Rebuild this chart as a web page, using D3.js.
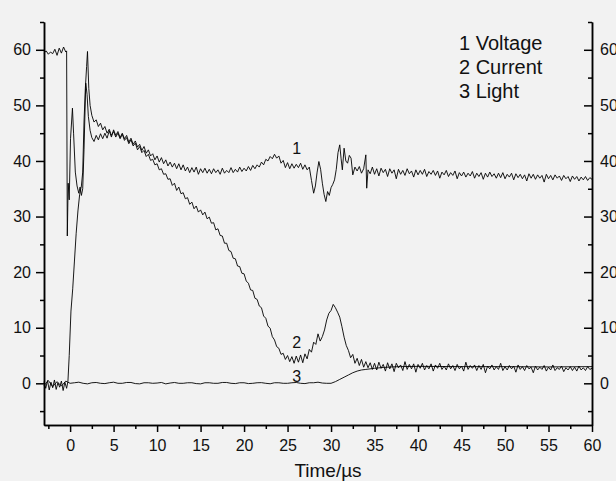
<!DOCTYPE html>
<html>
<head>
<meta charset="utf-8">
<script src="https://cdn.jsdelivr.net/npm/d3@7"></script>
<style>
  html, body { margin: 0; padding: 0; background: #f2f2f2; }
  svg { display: block; font-family: "Liberation Sans", Arial, sans-serif; }
</style>
</head>
<body>
<div id="chart"></div>
<script>
// [time in µs, value]
const voltage = [
  [-3,59.4],[-2.75,59.8],[-2.5,59.2],[-2.25,59.6],[-2,59.3],[-1.75,60.1],[-1.5,59.0],[-1.25,60.3],[-1,59.4],[-0.75,60.5],[-0.5,59.6],[-0.4,59.8],
  [-0.32,26.5],[-0.22,36],[-0.1,33],[0.05,44],[0.27,49.5],[0.4,45],[0.6,38],[0.8,35.5],[1.0,34.2],[1.15,35.3],[1.3,33.8],[1.45,35],[1.6,42],[1.8,54],[1.95,52],[2.1,48],[2.3,45.5],[2.5,44.2],[2.75,43.5],
  [3,44.6],[3.25,43.8],[3.5,44.9],[3.75,44.0],[4,45.0],[4.25,44.1],[4.5,45.4],[4.75,44.3],[5,45.6],[5.25,44.6],[5.5,45.3],[5.75,44.2],[6,45.0],[6.25,44.0],[6.5,44.6],[6.75,43.4],
  [7,44.1],[7.25,43.0],[7.5,43.6],[7.75,42.5],[8,43.0],[8.25,41.9],[8.5,42.6],[8.75,41.4],[9,42.0],[9.25,40.9],[9.5,41.3],[9.75,40.2],[10,40.9],[10.25,39.8],[10.5,40.6],[10.75,39.5],
  [11,40.2],[11.25,39.1],[11.5,39.8],[11.75,38.9],[12,39.6],[12.25,38.6],[12.5,39.5],[12.75,38.4],[13,39.3],[13.25,38.2],[13.5,38.9],[13.75,37.9],[14,38.8],[14.25,38.0],[14.5,38.9],[14.75,37.6],
  [15,38.6],[15.25,37.9],[15.5,38.7],[15.75,37.8],[16,38.5],[16.25,37.7],[16.5,38.6],[16.75,37.9],[17,38.4],[17.25,37.6],[17.5,38.7],[17.75,37.8],[18,38.3],[18.25,37.9],[18.5,38.8],[18.75,37.9],
  [19,38.5],[19.25,38.0],[19.5,38.9],[19.75,38.1],[20,38.7],[20.25,38.2],[20.5,39.0],[20.75,38.3],[21,39.2],[21.25,38.6],[21.5,39.3],[21.75,38.9],[22,39.8],[22.25,39.3],[22.5,40.3],[22.75,40.0],
  [23,40.8],[23.25,40.4],[23.5,41.2],[23.75,40.5],[24,40.9],[24.25,39.6],[24.5,40.1],[24.75,38.8],[25,39.7],[25.25,38.6],[25.5,39.5],[25.75,38.7],[26,39.4],[26.25,38.8],[26.5,39.6],[26.75,38.5],
  [27,39.3],[27.25,38.4],[27.5,38.9],[27.75,36.5],[28,34.2],[28.2,35.5],[28.4,38.0],[28.6,39.9],[28.8,38.5],[29,36.0],[29.2,34.0],[29.4,32.7],[29.6,34.5],[29.8,33.8],[30,35.2],[30.2,35.8],
  [30.4,36.6],[30.6,38.5],[30.8,41.5],[31,42.9],[31.15,40.5],[31.3,38.4],[31.5,42.3],[31.7,40.0],[31.9,39.6],[32.1,41.0],[32.3,40.5],[32.5,37.5],[32.75,38.9],[33,38.2],[33.25,39.0],[33.5,37.8],
  [33.75,38.6],[34,41.1],[34.1,35.1],[34.25,38.4],[34.5,37.7],[34.75,38.9],[35,37.6],[35.25,38.6],[35.5,37.3],[35.75,38.7],[36,37.9],[36.25,38.5],[36.5,37.2],[36.75,38.6],[37,37.8],[37.25,38.4],
  [37.5,36.8],[37.75,38.5],[38,37.6],[38.25,38.3],[38.5,37.4],[38.75,38.6],[39,37.7],[39.25,38.2],[39.5,37.1],[39.75,38.4],[40,37.5],[40.25,38.3],[40.5,37.6],[40.75,38.5],[41,37.2],[41.25,38.1],
  [41.5,37.6],[41.75,38.3],[42,37.4],[42.25,38.2],[42.5,36.9],[42.75,38.0],[43,37.5],[43.25,38.3],[43.5,37.2],[43.75,37.9],[44,37.4],[44.25,38.2],[44.5,36.8],[44.75,37.9],[45,37.3],[45.25,38.0],
  [45.5,37.1],[45.75,37.8],[46,37.3],[46.25,38.1],[46.5,36.9],[46.75,37.8],[47,37.2],[47.25,37.9],[47.5,36.7],[47.75,37.8],[48,37.1],[48.25,38.0],[48.5,37.2],[48.75,37.7],[49,36.9],[49.25,37.8],
  [49.5,37.0],[49.75,37.9],[50,36.8],[50.25,37.6],[50.5,37.1],[50.75,37.8],[51,36.6],[51.25,37.7],[51.5,37.0],[51.75,37.6],[52,36.8],[52.25,37.5],[52.5,36.4],[52.75,37.7],[53,36.9],[53.25,37.6],
  [53.5,36.7],[53.75,37.5],[54,36.9],[54.25,37.4],[54.5,36.2],[54.75,37.6],[55,36.8],[55.25,37.4],[55.5,36.6],[55.75,37.5],[56,36.9],[56.25,37.3],[56.5,36.5],[56.75,37.4],[57,36.8],[57.25,37.2],
  [57.5,36.3],[57.75,37.3],[58,36.7],[58.25,37.2],[58.5,36.4],[58.75,37.1],[59,36.6],[59.25,37.2],[59.5,36.5],[59.75,37.0],[60,36.7]
];

const current = [
  [-3,0.3],[-2.8,-0.9],[-2.6,0.5],[-2.4,-1.2],[-2.2,0.2],[-2,-0.8],[-1.8,0.6],[-1.6,-1.1],[-1.4,0.1],[-1.2,-0.7],[-1,0.4],[-0.8,-1.3],[-0.6,0.2],[-0.4,-0.9],[-0.25,0.3],
  [-0.1,5],[0.1,13],[0.3,17],[0.5,22],[0.7,27],[0.9,31],[1.1,34],[1.3,35.5],[1.45,38],[1.6,47],[1.75,53],[1.9,57],[2.0,59.7],[2.15,53],[2.3,50],[2.5,48.2],[2.75,47.0],
  [3,47.4],[3.25,46.2],[3.5,46.8],[3.75,45.6],[4,46.2],[4.25,45.0],[4.5,45.7],[4.75,44.6],[5,45.3],[5.25,44.3],[5.5,45.0],[5.75,44.0],[6,44.8],[6.25,43.7],[6.5,44.2],[6.75,43.1],
  [7,43.8],[7.25,42.7],[7.5,43.2],[7.75,42.0],[8,42.6],[8.25,41.5],[8.5,41.9],[8.75,40.8],[9,41.2],[9.25,40.1],[9.5,40.3],[9.75,39.3],[10,39.5],[10.25,38.4],[10.5,38.6],[10.75,37.6],
  [11,37.7],[11.25,36.7],[11.5,36.8],[11.75,35.6],[12,36.0],[12.25,34.7],[12.5,35.3],[12.75,34.1],[13,34.3],[13.25,33.2],[13.5,33.4],[13.75,32.2],[14,32.6],[14.25,31.4],[14.5,31.9],[14.75,30.8],
  [15,31.2],[15.25,30.3],[15.5,30.8],[15.75,29.6],[16,29.9],[16.25,28.8],[16.5,28.9],[16.75,27.6],[17,27.8],[17.25,26.6],[17.5,26.5],[17.75,25.2],[18,25.2],[18.25,23.9],[18.5,23.7],[18.75,22.5],
  [19,22.4],[19.25,21.1],[19.5,21.0],[19.75,19.8],[20,19.7],[20.25,18.4],[20.5,18.0],[20.75,16.8],[21,16.7],[21.25,15.3],[21.5,15.1],[21.75,13.9],[22,13.6],[22.25,12.1],[22.5,11.7],[22.75,10.3],
  [23,9.9],[23.25,8.4],[23.5,7.8],[23.75,6.6],[24,6.3],[24.25,5.2],[24.5,5.4],[24.75,4.3],[25,5.0],[25.25,3.9],[25.5,4.8],[25.75,3.6],[26,4.9],[26.25,3.8],[26.5,5.1],[26.75,3.7],
  [27,5.3],[27.25,4.4],[27.5,6.1],[27.75,5.6],[28,7.4],[28.25,7.0],[28.5,8.9],[28.75,7.6],[29,8.4],[29.25,9.6],[29.5,11.4],[29.75,12.6],[30,13.1],[30.25,14.2],[30.5,13.6],[30.75,12.8],
  [31,11.9],[31.25,10.2],[31.5,8.3],[31.75,6.8],[32,5.9],[32.25,4.6],[32.5,5.2],[32.75,3.6],[33,4.5],[33.25,3.2],[33.5,4.3],[33.75,2.9],[34,3.9],[34.25,2.8],[34.5,3.7],[34.75,2.5],
  [35,3.6],[35.25,2.4],[35.5,3.8],[35.75,2.7],[36,3.4],[36.25,2.2],[36.5,3.7],[36.75,2.6],[37,3.5],[37.25,2.1],[37.5,3.6],[37.75,2.8],[38,3.3],[38.25,2.3],[38.5,3.9],[38.75,2.5],
  [39,3.4],[39.25,2.6],[39.5,3.5],[39.75,2.0],[40,3.4],[40.25,2.7],[40.5,3.6],[40.75,2.4],[41,3.2],[41.25,2.6],[41.5,3.5],[41.75,2.2],[42,3.3],[42.25,2.7],[42.5,3.6],[42.75,2.5],
  [43,3.1],[43.25,2.4],[43.5,3.5],[43.75,2.6],[44,3.2],[44.25,2.3],[44.5,3.4],[44.75,2.6],[45,3.1],[45.25,2.2],[45.5,3.8],[45.75,2.5],[46,3.2],[46.25,2.7],[46.5,3.3],[46.75,2.3],
  [47,3.2],[47.25,2.5],[47.5,3.4],[47.75,1.9],[48,3.1],[48.25,2.6],[48.5,3.3],[48.75,2.4],[49,3.0],[49.25,2.5],[49.5,3.6],[49.75,2.3],[50,3.0],[50.25,2.4],[50.5,3.2],[50.75,2.6],
  [51,3.1],[51.25,2.0],[51.5,3.3],[51.75,2.5],[52,3.0],[52.25,2.3],[52.5,3.2],[52.75,2.6],[53,2.9],[53.25,1.9],[53.5,3.1],[53.75,2.4],[54,2.9],[54.25,2.5],[54.5,3.2],[54.75,2.2],
  [55,2.9],[55.25,2.4],[55.5,3.3],[55.75,2.3],[56,2.8],[56.25,2.5],[56.5,3.1],[56.75,2.1],[57,2.8],[57.25,2.4],[57.5,3.0],[57.75,2.3],[58,2.9],[58.25,2.2],[58.5,3.1],[58.75,2.4],
  [59,2.8],[59.25,2.3],[59.5,3.0],[59.75,2.5],[60,2.7]
];

const light = [
  [-3,-0.4],[-2.5,0.5],[-2,-0.6],[-1.5,0.3],[-1,-0.5],[-0.5,0.4],[0,0.0],[0.5,0.1],[1,0.2],[1.5,0.0],[2,-0.1],[2.5,0.1],[3,0.15],[3.5,0.0],[4,-0.05],[4.5,0.1],
  [5,0.2],[5.5,0.0],[6,0.0],[6.5,0.15],[7,0.15],[7.5,-0.05],[8,-0.1],[8.5,0.1],[9,0.1],[9.5,0.0],[10,0.05],[10.5,0.15],[11,-0.1],[11.5,0.05],[12,0.15],[12.5,0.0],
  [13,0.0],[13.5,0.1],[14,0.1],[14.5,-0.05],[15,-0.1],[15.5,0.1],[16,0.1],[16.5,0.0],[17,0.0],[17.5,0.15],[18,0.15],[18.5,0.0],[19,-0.05],[19.5,0.1],[20,0.1],[20.5,-0.05],
  [21,0.0],[21.5,0.1],[22,0.12],[22.5,0.0],[23,-0.08],[23.5,0.1],[24,0.1],[24.5,0.0],[25,0.0],[25.5,0.1],[26,0.15],[26.5,0.0],[27,-0.05],[27.5,0.1],[28,0.1],[28.5,0.2],
  [29,0.05],[29.5,0.0],[30,0.0],[30.5,0.3],[31,0.7],[31.5,1.1],[32,1.5],[32.5,1.9],[33,2.2],[33.5,2.4],[34,2.5],[35,2.7],[36,2.85],[37,2.95],[38,3.0],[40,3.05],
  [45,3.0],[50,3.0],[55,2.95],[60,3.0]
];

const yMajor = [0, 10, 20, 30, 40, 50, 60];
const yMinor = [-5, 5, 15, 25, 35, 45, 55, 65];
const xMajor = [0, 5, 10, 15, 20, 25, 30, 35, 40, 45, 50, 55, 60];
const xMinor = [-2.5, 2.5, 7.5, 12.5, 17.5, 22.5, 27.5, 32.5, 37.5, 42.5, 47.5, 52.5, 57.5];
const legendItems = ["1 Voltage", "2 Current", "3 Light"];

const width = 616, height = 481;
const plotL = 44, plotR = 592, plotT = 22, plotB = 425;

const svg = d3.select("#chart").append("svg")
    .attr("width", width)
    .attr("height", height);

svg.append("rect")
    .attr("width", width)
    .attr("height", height)
    .attr("fill", "#f2f2f2");

const x = d3.scaleLinear().domain([-3, 60]).range([plotL, plotR]);
const y = d3.scaleLinear().domain([-7.5, 65]).range([plotB, plotT]);

const line = d3.line()
    .x(d => x(d[0]))
    .y(d => y(d[1]));

// traces
[light, current, voltage].forEach(s => {
    svg.append("path")
        .datum(s)
        .attr("fill", "none")
        .attr("stroke", "#000")
        .attr("stroke-width", 0.9)
        .attr("stroke-linejoin", "round")
        .attr("d", line);
});

function styleAxis(g) {
    g.selectAll("path, line").attr("stroke", "#000").attr("stroke-width", 1.5);
    g.selectAll("text").attr("fill", "#111").attr("font-size", 16)
        .attr("font-family", "'Liberation Sans', Arial, sans-serif");
}

// left axis
svg.append("g")
    .attr("transform", `translate(${plotL},0)`)
    .call(d3.axisLeft(y).tickValues(yMajor).tickSize(8).tickSizeOuter(0).tickPadding(5))
    .call(styleAxis);
svg.append("g")
    .attr("transform", `translate(${plotL},0)`)
    .call(d3.axisLeft(y).tickValues(yMinor).tickSize(4).tickSizeOuter(0).tickFormat(""))
    .call(styleAxis);

// right axis: ticks point inward, labels outside (cut by the page edge, as in the original)
svg.append("g")
    .attr("transform", `translate(${plotR},0)`)
    .call(d3.axisRight(y).tickValues(yMajor).tickSize(-8).tickSizeOuter(0).tickPadding(8))
    .call(styleAxis);
svg.append("g")
    .attr("transform", `translate(${plotR},0)`)
    .call(d3.axisRight(y).tickValues(yMinor).tickSize(-4).tickSizeOuter(0).tickFormat(""))
    .call(styleAxis);

// bottom axis
svg.append("g")
    .attr("transform", `translate(0,${plotB})`)
    .call(d3.axisBottom(x).tickValues(xMajor).tickSize(7).tickSizeOuter(0).tickPadding(8))
    .call(styleAxis);
svg.append("g")
    .attr("transform", `translate(0,${plotB})`)
    .call(d3.axisBottom(x).tickValues(xMinor).tickSize(4).tickSizeOuter(0).tickFormat(""))
    .call(styleAxis);

svg.append("text")
    .attr("x", 328)
    .attr("y", 477)
    .attr("text-anchor", "middle")
    .attr("font-size", 19)
    .attr("fill", "#111")
    .text("Time/µs");

// legend
svg.selectAll(".legend")
    .data(legendItems)
    .enter()
    .append("text")
    .attr("class", "legend")
    .attr("x", 459)
    .attr("y", (d, i) => 50 + i * 24)
    .attr("font-size", 20)
    .attr("fill", "#111")
    .text(d => d);

// curve numbers
svg.append("text").attr("x", x(26.05)).attr("y", y(41.2))
    .attr("text-anchor", "middle").attr("font-size", 16).attr("fill", "#111").text("1");
svg.append("text").attr("x", x(26.05)).attr("y", y(6.3))
    .attr("text-anchor", "middle").attr("font-size", 16).attr("fill", "#111").text("2");
svg.append("text").attr("x", x(26.05)).attr("y", y(0.2))
    .attr("text-anchor", "middle").attr("font-size", 16).attr("fill", "#111").text("3");
</script>
</body>
</html>
